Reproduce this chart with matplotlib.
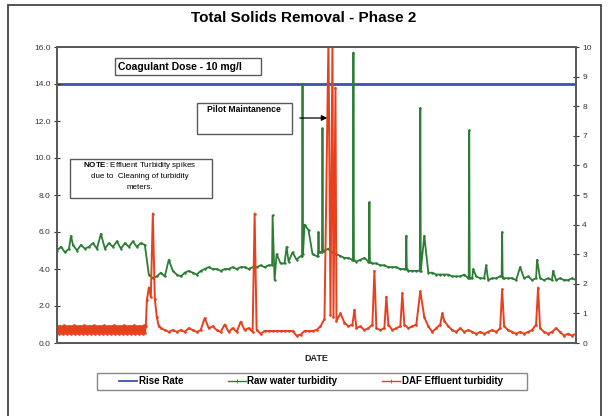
import matplotlib
matplotlib.use("Agg")
import matplotlib.pyplot as plt
from matplotlib.lines import Line2D
from matplotlib.patches import Rectangle

plt.rcParams['font.family'] = ['Liberation Sans', 'DejaVu Sans']
plt.rcParams['mathtext.fontset'] = 'custom'
plt.rcParams['mathtext.rm'] = 'Liberation Sans'
plt.rcParams['mathtext.bf'] = 'Liberation Sans:bold'

# ---------------- data ----------------
title = "Total Solids Removal - Phase 2"
x_label = "DATE"
left_ticks = [0, 2, 4, 6, 8, 10, 12, 14, 16]
right_ticks = [0, 1, 2, 3, 4, 5, 6, 7, 8, 9, 10]

# Rise rate (right axis)
rise_days = [0, 260]
rise_vals = [8.75, 8.75]

# Raw water turbidity (left axis), regular readings every 2 days
green_days = list(range(0, 261, 2))
green_vals = [
    5.0, 5.2, 4.9, 5.1, 5.3, 5.0, 5.3, 5.1, 5.2, 5.4, 5.1, 5.3, 5.1, 5.4, 5.2, 5.5, 5.1, 5.4, 5.2, 5.5, 5.2, 5.4, 5.3,
    3.7, 3.5, 3.6, 3.8, 3.6, 3.7, 3.9, 3.7, 3.6, 3.8, 3.9, 3.8, 3.7, 3.9,
    4.0, 4.1, 4.0, 4.0, 3.9, 4.0, 4.0, 4.1, 4.0, 4.1, 4.1, 4.0, 4.1, 4.1, 4.2, 4.1, 4.2, 4.3, 4.2, 4.3, 4.3, 4.4,
    4.5, 4.5, 4.7, 4.8, 4.7, 4.8, 4.7,
    4.9, 5.0, 5.1, 4.9, 4.8, 4.7,
    4.6, 4.6, 4.5, 4.4, 4.5, 4.6, 4.4, 4.3, 4.3, 4.2, 4.2, 4.1, 4.1, 4.1, 4.0, 4.0, 3.9, 3.9, 3.9, 3.8, 3.8, 3.8,
    3.8, 3.7, 3.7, 3.7, 3.7, 3.6, 3.6,
    3.6, 3.7, 3.5, 3.5, 3.6, 3.5, 3.5, 3.4, 3.5, 3.5, 3.6, 3.5, 3.5, 3.5, 3.4, 3.5, 3.5, 3.6, 3.4, 3.5, 3.5, 3.4,
    3.5, 3.4, 3.4, 3.5, 3.4, 3.4, 3.5, 3.4,
]
# Raw water turbidity spike readings (and the readings right beside them)
green_spike_days = [7, 22, 56, 107.75, 108, 109, 110, 115, 118, 122.75, 123, 123.25, 124, 126, 130.75, 131,
                    131.25, 132.75, 133, 133.25, 148.25, 148.5, 148.75, 156.25, 156.5, 156.75, 174.75, 175,
                    175.25, 181.75, 182, 182.25, 184, 206.25, 206.5, 206.75, 208.5, 215, 222.75, 223, 223.25,
                    232, 240.5, 248.5]
green_spike_vals = [5.8, 5.9, 4.5, 4.2, 6.9, 3.4, 4.8, 5.2, 4.9, 4.7, 14.0, 4.8, 6.4, 6.1, 4.7, 6.0,
                    4.9, 4.9, 11.6, 5.0, 4.5, 15.7, 4.5, 4.4, 7.6, 4.4, 4.0, 5.8,
                    4.0, 3.9, 12.7, 3.9, 5.8, 3.5, 11.5, 3.5, 4.0, 4.2, 3.6, 6.0, 3.5,
                    4.1, 4.5, 3.9]

# DAF effluent turbidity (left axis): half-day readings for days 0-44.5, daily 45-51, then every 2 days
red_days = [i / 2 for i in range(0, 90)] + list(range(45, 52)) + list(range(52, 261, 2))
red_vals = [
    0.55, 0.9, 0.5, 0.92, 0.55, 0.9, 0.5, 0.95, 0.55, 0.9,
    0.5, 0.9, 0.55, 0.92, 0.5, 0.9, 0.55, 0.95, 0.5, 0.9,
    0.55, 0.9, 0.5, 0.92, 0.55, 0.9, 0.5, 0.95, 0.55, 0.9,
    0.5, 0.9, 0.55, 0.92, 0.5, 0.9, 0.55, 0.95, 0.5, 0.9,
    0.55, 0.9, 0.5, 0.92, 0.55, 0.9, 0.5, 0.95, 0.55, 0.9,
    0.5, 0.9, 0.55, 0.92, 0.5, 0.9, 0.55, 0.95, 0.5, 0.9,
    0.55, 0.9, 0.5, 0.92, 0.55, 0.9, 0.5, 0.95, 0.55, 0.9,
    0.5, 0.9, 0.55, 0.92, 0.5, 0.9, 0.55, 0.95, 0.5, 0.9,
    0.55, 0.9, 0.5, 0.92, 0.55, 0.9, 0.5, 0.95, 0.55, 0.9,
    2.3, 3.0, 2.5, 3.1, 2.4, 1.4, 0.9,
    0.8, 0.7, 0.6, 0.7, 0.6, 0.7, 0.6, 0.8, 0.7, 0.6, 0.7, 1.0, 0.8, 0.9, 0.7, 0.6, 0.5, 0.6, 0.8, 0.6,
    0.9, 0.7, 0.8, 0.6, 0.7, 0.5,
    0.65, 0.65, 0.65, 0.65, 0.65, 0.65, 0.65, 0.65, 0.4, 0.45, 0.65, 0.65, 0.65, 0.7,
    0.9, 1.3, 1.8, 1.5, 1.2,
    1.0, 1.1, 0.9, 1.0, 0.8, 0.9, 0.7, 0.8, 1.0, 0.8,
    0.7, 0.8, 1.0, 0.7, 0.8, 0.9, 1.0, 0.8, 0.9, 1.0,
    1.2, 1.4, 0.9, 0.6, 0.8, 1.0, 1.2, 0.9, 0.7, 0.6,
    0.8, 0.6, 0.7, 0.6, 0.5, 0.6, 0.5, 0.6, 0.7, 0.6,
    0.8, 0.9, 0.7, 0.6, 0.5, 0.6, 0.5, 0.6, 0.7, 1.0,
    0.8, 0.6, 0.5, 0.6, 0.8, 0.6, 0.4, 0.5, 0.4, 0.5,
]
# DAF effluent spike readings
red_spike_days = [48, 74, 84, 92, 99, 136, 137, 138, 138.5, 139.5, 142, 149, 159, 165, 173, 182, 193, 223, 241]
red_spike_vals = [7.0, 1.35, 1.0, 1.15, 7.0, 16.5, 1.5, 16.5, 1.4, 13.8, 1.6, 1.8, 3.9, 2.5, 2.7, 2.8, 1.6, 2.9, 3.0]


def merge(days, vals, sdays, svals):
    d = dict(zip(days, vals))
    d.update(dict(zip(sdays, svals)))
    ks = sorted(d)
    return ks, [d[k] for k in ks]


gx, gy = merge(green_days, green_vals, green_spike_days, green_spike_vals)
rx, ry = merge(red_days, red_vals, red_spike_days, red_spike_vals)

BLUE = "#3e50b4"
GREEN = "#2b7d34"
RED = "#e8401f"
FRAME = "#5a5a5a"

W, H = 608, 416
fig = plt.figure(figsize=(W / 100, H / 100), dpi=100)
ax = fig.add_axes([57 / W, 1 - 343 / H, (576 - 57) / W, (343 - 47) / H])
ax2 = ax.twinx()
ax.set_zorder(ax2.get_zorder() + 1)
ax.patch.set_visible(False)

ax2.plot(rise_days, rise_vals, color=BLUE, lw=2.0, solid_capstyle='butt')
ax.plot(gx, gy, color=GREEN, lw=1.3, marker='.', ms=1.5)
ax.plot(rx, ry, color=RED, lw=1.4, marker='.', ms=1.8)

ax.set_xlim(0, 260)
ax.set_ylim(0, 16)
ax2.set_ylim(0, 10)
ax.set_xticks([])
ax.set_yticks(left_ticks)
ax.set_yticklabels([f"{v:.1f}" for v in left_ticks])
ax2.set_yticks(right_ticks)
ax2.set_yticklabels([str(v) for v in right_ticks])
for a in (ax, ax2):
    a.tick_params(axis='y', labelsize=6, colors='#333333', direction='inout', length=5, width=0.8, pad=2)
    for s in a.spines.values():
        s.set_color(FRAME)
        s.set_linewidth(1.3)

ax.set_xlabel(x_label, fontsize=6.5, fontweight='bold', labelpad=8, color='#222222')
fig.text(0.5, 1 - 18 / H, title, ha='center', va='center', fontsize=11, fontweight='bold')


def axc(px, py):
    return (px - 57) / 519, (343 - py) / 296


def box(x0, y0, x1, y1):
    (ax0, ay0), (ax1, ay1) = axc(x0, y1), axc(x1, y0)
    ax.add_patch(Rectangle((ax0, ay0), ax1 - ax0, ay1 - ay0, transform=ax.transAxes,
                           fill=True, facecolor='white', edgecolor=FRAME, lw=1.0, zorder=5))


box(115, 58, 261, 75)
tx, ty = axc(118, 66.5)
ax.text(tx, ty, "Coagulant Dose - 10 mg/l", transform=ax.transAxes, fontsize=7.5, fontweight='bold',
        ha='left', va='center', zorder=6)

box(197, 103, 292, 134)
tx, ty = axc(244, 109.5)
ax.text(tx, ty, "Pilot Maintanence", transform=ax.transAxes, fontsize=6.2, fontweight='bold',
        ha='center', va='center', zorder=6)
a0 = axc(297, 118)
a1 = axc(330, 118)
ax.annotate("", xy=a1, xytext=a0, xycoords='axes fraction', textcoords='axes fraction',
            arrowprops=dict(arrowstyle='-|>', color='black', lw=0.9, mutation_scale=8), zorder=6)

box(70, 159, 212, 198)
for txt, py in [(r"$\mathbf{NOTE}$: Effluent Turbidity spikes", 165.5),
                ("due to  Cleaning of turbidity", 176.5), ("meters.", 187.5)]:
    tx, ty = axc(140, py)
    ax.text(tx, ty, txt, transform=ax.transAxes, fontsize=5.8, ha='center', va='center', zorder=6)

# legend
handles = [Line2D([], [], color=BLUE, lw=1.3),
           Line2D([], [], color=GREEN, lw=1.0, marker='|', ms=3, mew=0.6),
           Line2D([], [], color=RED, lw=1.0, marker='|', ms=3, mew=0.6)]
labels = ["Rise Rate", "Raw water turbidity", "DAF Effluent turbidity"]
fig.legend(handles, labels, loc='center', bbox_to_anchor=(311 / W, 1 - 381.5 / H), ncol=3,
           frameon=False, prop={'size': 7, 'weight': 'bold'}, handlelength=1.8, handletextpad=0.2,
           columnspacing=4.6)
fig.patches.append(Rectangle((97 / W, 1 - 390 / H), 430 / W, 17 / H, transform=fig.transFigure,
                             fill=False, edgecolor='#888888', lw=1.0))
# outer frame
fig.patches.append(Rectangle((8 / W, -0.02), 593 / W, 1 - 5 / H + 0.02, transform=fig.transFigure,
                             fill=False, edgecolor='#444444', lw=1.3))

fig.savefig("out.png", dpi=100)
